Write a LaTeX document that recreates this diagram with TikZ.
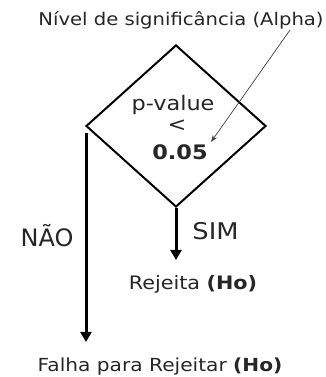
\documentclass[tikz,border=0pt]{standalone}
\usepackage{fontspec}
\setmainfont{DejaVu Sans}
\newfontfamily\wide[FakeStretch=1.12]{DejaVu Sans}
\usetikzlibrary{shapes.geometric,arrows.meta,calc}
\begin{document}
\begin{tikzpicture}[x=1pt,y=1pt,
  lbl/.style={inner sep=0pt,text=black!85,anchor=base},
  dec/.style={diamond,draw,line width=2pt,minimum width=180pt,minimum height=162pt,inner sep=0pt},
  flow/.style={line width=3pt,-{Triangle[width=11pt,length=10pt]}},
  thin/.style={line width=0.7pt,draw=black!75,-{Stealth[width=5pt,length=7pt]}}]
\useasboundingbox (0,0) rectangle (326,377);
\node[dec] (d) at (176,251) {};
\node[lbl,font=\wide\fontsize{17.5}{20}\selectfont] (alpha) at (181,351.3) {Nível de significância (Alpha)};
\node[lbl,font=\wide\fontsize{20}{22}\selectfont] (pv) at (173,266) {p-value};
\node[lbl,anchor=center,font=\wide\fontsize{20}{22}\selectfont] (lt) at (177,251) {<};
\node[lbl,font=\wide\fontsize{20}{22}\selectfont\bfseries] (val) at (180,217) {0.05};
\node[lbl,font=\fontsize{24}{26}\selectfont] (nao) at (47,130.3) {NÃO};
\node[lbl,font=\wide\fontsize{23}{26}\selectfont] (sim) at (215.5,137) {SIM};
\node[lbl,font=\wide\fontsize{18.5}{21}\selectfont] (rej) at (193,87) {Rejeita \textbf{(Ho)}};
\node[lbl,font=\wide\fontsize{18}{21}\selectfont] (fail) at (160,5.3) {Falha para Rejeitar \textbf{(Ho)}};
\coordinate (nstart) at ($(d.west)+(1,-7)$);
\coordinate (nend) at (nstart |- 0,35);
\coordinate (send) at (d.south |- 0,117);
\coordinate (astart) at (290,347);
\coordinate (aend) at (211,235);
\draw[flow] (nstart) -- (nend);
\draw[flow] (d.south) -- (send);
\draw[thin] (astart) -- (aend);
\end{tikzpicture}
\end{document}
